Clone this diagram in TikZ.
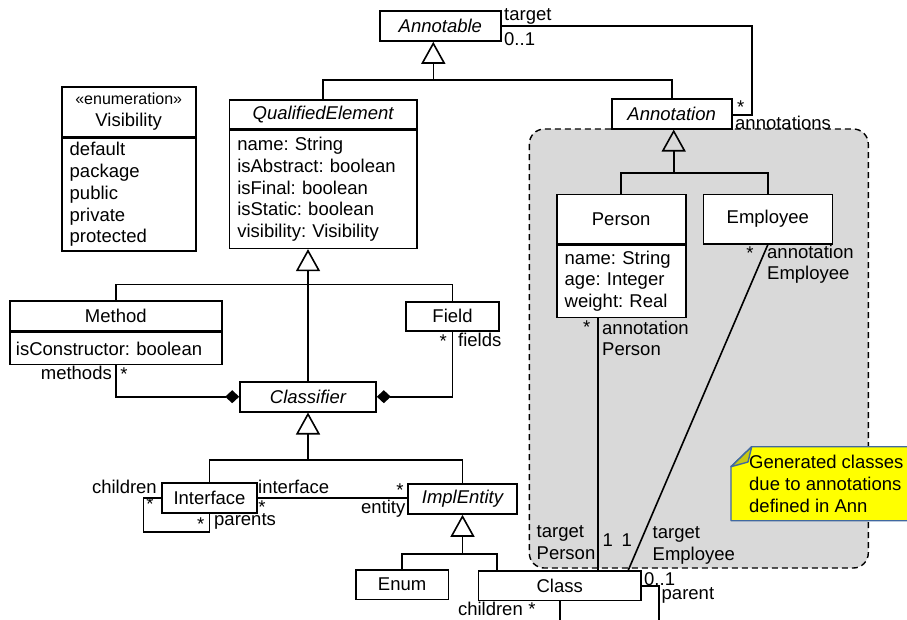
\documentclass[tikz,border=0pt]{standalone}
\usepackage{fontspec}
\setmainfont{Liberation Sans}
\usepackage{tikz}
\usetikzlibrary{arrows.meta}
\definecolor{regiongray}{gray}{.85}
\definecolor{noteyellow}{RGB}{255,255,0}
\definecolor{noteborder}{RGB}{65,105,160}
\definecolor{notefold}{RGB}{200,200,20}
\newcommand{\umlfont}{\fontsize{18.5}{21.7}\selectfont\frenchspacing}
\newcommand{\stereofont}{\fontsize{16}{18}\selectfont}
\newcommand{\rowheight}{29.5pt}
\tikzset{
    common/.style={draw, fill=white, rectangle, line width=1.6pt, inner sep=0pt, minimum height=\rowheight},
    cls/.style={common},
    abstract/.style={common, font=\umlfont\itshape},
    attrs/.style={common, anchor=north, align=left, inner xsep=8pt},
    lbl/.style={inner sep=1pt},
    assoc/.style={line width=1.6pt},
    gen/.style={assoc, -{Triangle[open, length=22pt, width=24pt]}},
    comp/.style={assoc, -{Diamond[length=14pt, width=13pt]}},
    region/.style={draw, fill=regiongray, line width=1.4pt, dash pattern=on 6pt off 4pt, rounded corners=15pt},
    note/.style={draw=noteborder, fill=noteyellow, line width=1.4pt, line join=round}
}

\begin{document}
\begin{tikzpicture}[x=1pt, y=-1pt, font=\umlfont]
    \useasboundingbox (0,0) rectangle (907,619);

    % generated region and note
    \draw[region] (529.3,129) rectangle (868.3,568);
    \draw[note] (731,466.7) -- (751.7,446.7) -- (925,446.7) -- (925,520.7) -- (731,520.7) -- cycle;
    \draw[note, fill=notefold] (731,466.7) -- (751.7,446.7) -- (748,462) -- cycle;
    \node[lbl, anchor=west, align=left] (noteText) at (748,484) {Generated classes\\due to annotations\\defined in Ann};

    % classes
    \node[abstract, minimum width=120.7pt, minimum height=30.3pt] (Annotable) at (440.35,25.85) {Annotable};
    \node[abstract, minimum width=120pt] (Annotation) at (671.7,114) {Annotation};

    \node[cls, minimum width=134pt, minimum height=50pt, align=center] (Vis) at (128.7,111.7) {{\stereofont «enumeration»}\\Visibility};
    \node[attrs, text width=118pt, minimum height=112.6pt] (VisAttr) at (Vis.south) {default\\package\\public\\private\\protected};

    \node[abstract, minimum width=187.7pt, minimum height=29pt] (QE) at (323.15,114.5) {QualifiedElement};
    \node[attrs, text width=171.7pt, minimum height=117.7pt] (QEAttr) at (QE.south) {name: String\\isAbstract: boolean\\isFinal: boolean\\isStatic: boolean\\visibility: Visibility};

    \node[cls, minimum width=211.7pt, minimum height=30.3pt] (Method) at (115.85,315.85) {Method};
    \node[attrs, inner xsep=6pt, text width=199.7pt, minimum height=31.7pt] (MethodAttr) at (Method.south) {isConstructor: boolean};
    \node[cls, minimum width=93pt, minimum height=29pt] (Field) at (452.5,316.2) {Field};
    \node[abstract, minimum width=136pt, minimum height=30pt] (Classifier) at (308,396.7) {Classifier};

    \node[cls, minimum width=95pt] (Interface) at (209.5,498) {Interface};
    \node[abstract, minimum width=109pt, minimum height=30pt] (ImplEntity) at (462.5,499) {ImplEntity};
    \node[cls, minimum width=92.3pt] (Enum) at (402.15,584.65) {Enum};
    \node[cls, minimum width=162.5pt] (Class) at (559.75,585.75) {Class};

    \node[cls, minimum width=129pt, minimum height=49pt] (Person) at (621.2,218.8) {Person};
    \node[attrs, text width=113pt, minimum height=72.4pt] (PersonAttr) at (Person.south) {name: String\\age: Integer\\weight: Real};
    \node[cls, minimum width=129pt, minimum height=49.7pt] (Employee) at (767.8,219.15) {Employee};

    % junctions
    \coordinate (jTop) at (433.3,80);
    \coordinate (jQE) at (308,284.3);
    \coordinate (jCls) at (308,460);
    \coordinate (jImpl) at (462.5,554);
    \coordinate (jAnn) at (673.7,172.7);
    \coordinate (annCorner) at (751.7,115);
    \coordinate (ifLoop) at (143.3,531.7);
    \coordinate (clsLoop) at (659,632);
    \coordinate (pLine) at (598,0);

    % generalizations
    \draw[assoc] (QE.north) |- (jTop) -| (Annotation.north);
    \draw[gen] (jTop) -- (jTop |- Annotable.south);
    \draw[assoc] (Method.north) |- (jQE) -| (Field.north);
    \draw[gen] (Classifier.north) -- (Classifier.north |- QEAttr.south);
    \draw[assoc] (Interface.north) |- (jCls) -| (ImplEntity.north);
    \draw[gen] (jCls) -- (Classifier.south);
    \draw[assoc] (Enum.north) |- (jImpl) -| ([xshift=-62.75pt]Class.north);
    \draw[gen] (jImpl) -- (ImplEntity.south);
    \draw[assoc] (Person.north) |- (jAnn) -| (Employee.north);
    \draw[gen] (jAnn) -- (jAnn |- Annotation.south);

    % compositions
    \draw[comp] (MethodAttr.south) |- (Classifier.west);
    \draw[comp] (Field.south) |- (Classifier.east);

    % associations
    \draw[assoc] (Annotable.east) -| (annCorner) -- (annCorner -| Annotation.east);
    \draw[assoc] (Interface.east) -- (Interface.east -| ImplEntity.west);
    \draw[assoc] (Interface.west) -| (ifLoop) -| (Interface.south);
    \draw[assoc] (Class.east) -| (clsLoop) -| (Class.south);
    \draw[assoc] (PersonAttr.south -| pLine) -- (Class.north -| pLine);
    \draw[assoc] (Employee.south) -- ([xshift=68.5pt]Class.north);

    % role names and multiplicities
    \node[lbl, anchor=west] (tgtAnn) at (503,16.7) {target};
    \node[lbl, anchor=west] (mulTgtAnn) at (503,39.3) {0..1};
    \node[lbl] (mulAnns) at (740.7,107) {*};
    \node[lbl, anchor=west] (anns) at (734,122.5) {annotations};

    \node[lbl, anchor=east] (methods) at (113,373) {methods};
    \node[lbl] (mulMethods) at (124,374) {*};
    \node[lbl] (mulFields) at (443.3,341) {*};
    \node[lbl, anchor=west] (fields) at (457,340) {fields};

    \node[lbl, anchor=east] (ifChildren) at (158,486.7) {children};
    \node[lbl] (mulIfChildren) at (150,504) {*};
    \node[lbl] (mulIfParents) at (200.7,524) {*};
    \node[lbl, anchor=west] (ifParents) at (213,521.7) {parents};
    \node[lbl, anchor=west] (ifRole) at (257,486.7) {interface};
    \node[lbl] (mulIfRole) at (262,507) {*};
    \node[lbl] (mulEntity) at (400,490) {*};
    \node[lbl, anchor=east] (entity) at (406.5,508.5) {entity};

    \node[lbl] (mulAnnPerson) at (586.7,327) {*};
    \node[lbl, anchor=west, align=left] (annPerson) at (601,338.3) {annotation\\Person};
    \node[lbl] (mulAnnEmpl) at (750,252.7) {*};
    \node[lbl, anchor=west, align=left] (annEmpl) at (766,264.2) {annotation\\Employee};

    \node[lbl, anchor=west, align=left] (tgtPerson) at (535.5,542.8) {target\\Person};
    \node[lbl] (mulTgtPerson) at (607.7,540) {1};
    \node[lbl] (mulTgtEmpl) at (626.7,540) {1};
    \node[lbl, anchor=west, align=left] (tgtEmpl) at (651.5,545.7) {target\\Employee};

    \node[lbl, anchor=west] (mulParent) at (643,579.3) {0..1};
    \node[lbl, anchor=west] (parent) at (660.5,595) {parent};
    \node[lbl, anchor=east] (clsChildren) at (524,608.5) {children};
    \node[lbl] (mulClsChildren) at (532,609.5) {*};
\end{tikzpicture}
\end{document}
